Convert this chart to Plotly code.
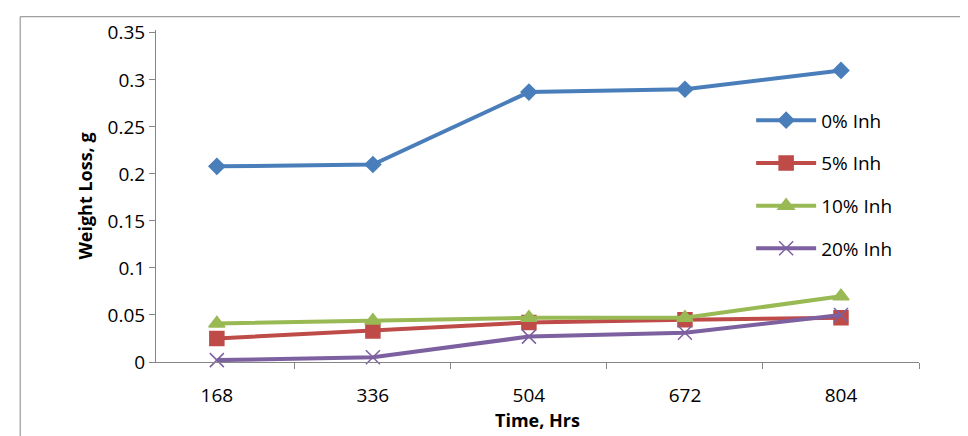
import plotly.graph_objects as go

hours = ["168", "336", "504", "672", "804"]
names = ["0% Inh", "5% Inh", "10% Inh", "20% Inh"]
loss_0 = [0.208, 0.210, 0.287, 0.290, 0.310]
loss_5 = [0.025, 0.033, 0.042, 0.045, 0.047]
loss_10 = [0.041, 0.044, 0.047, 0.047, 0.070]
loss_20 = [0.002, 0.005, 0.027, 0.031, 0.050]

series = [loss_0, loss_5, loss_10, loss_20]
colors = ["#4A7EBB", "#BE4B48", "#98B954", "#7D60A0"]
symbols = ["diamond", "square", "triangle-up", "x-thin"]
sizes = [12, 14, 14, 14]

fig = go.Figure()
for name, vals, c, s, sz in zip(names, series, colors, symbols, sizes):
    fig.add_trace(go.Scatter(
        x=hours, y=vals, name=name, legendgroup=name, mode="lines+markers",
        line=dict(color=c, width=4),
        marker=dict(symbol=s, size=sz, color=c, line=dict(color=c, width=1.5)),
        cliponaxis=False,
    ))

fig.update_layout(
    width=968, height=436,
    margin=dict(l=148, r=57, t=16, b=82),
    paper_bgcolor="white", plot_bgcolor="white",
    font=dict(family="Open Sans, Liberation Sans, Arial", size=19, color="black"),
    xaxis=dict(
        type="category", range=[-0.39, 4.5], showline=True, linecolor="#868686", linewidth=1,
        ticks="outside", ticklen=6, tickcolor="#868686", tickson="boundaries",
        showgrid=False, ticklabelstandoff=16,
        title=dict(text="<b>Time, Hrs</b>", font=dict(size=18), standoff=0),
    ),
    yaxis=dict(
        range=[0, 0.353], tickvals=[0, 0.05, 0.1, 0.15, 0.2, 0.25, 0.3, 0.35],
        ticktext=["0", "0.05", "0.1", "0.15", "0.2", "0.25", "0.3", "0.35"],
        showline=True, linecolor="#868686", ticks="outside", ticklen=6, tickcolor="#868686",
        showgrid=False, zeroline=False,
        title=dict(text="<b>Weight Loss, g</b>", font=dict(size=18), standoff=10),
    ),
    legend=dict(x=0.78, y=0.785, xanchor="left", yanchor="top",
                bgcolor="rgba(0,0,0,0)", font=dict(size=19),
                tracegroupgap=15, itemwidth=60),
    shapes=[dict(type="rect", xref="paper", yref="paper",
                 x0=-0.178, x1=1.07, y0=-0.3, y1=1.04,
                 line=dict(color="#868686", width=1))],
)

fig.write_html("out.html")
